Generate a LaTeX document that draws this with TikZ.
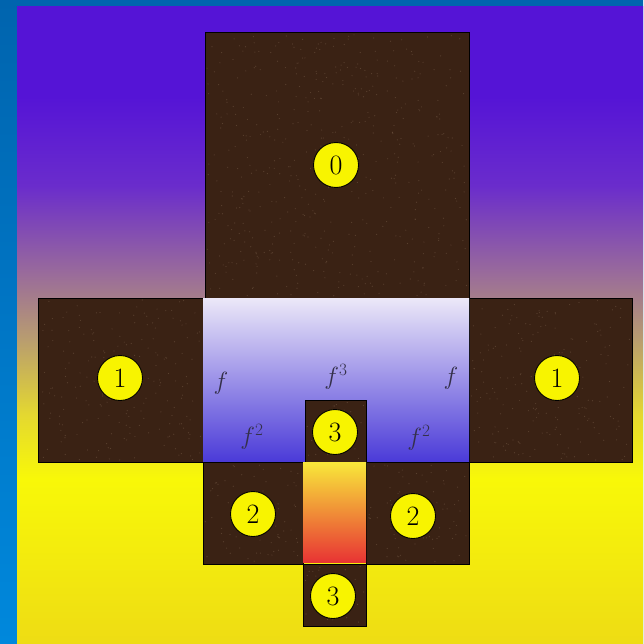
\documentclass[tikz,border=0pt]{standalone}
\definecolor{frameA}{HTML}{0064AE}
\definecolor{frameB}{HTML}{0088DC}
\definecolor{bgP0}{HTML}{5514D6}
\definecolor{bgP1}{HTML}{6A2CCC}
\definecolor{bgM1}{HTML}{9A6C9A}
\definecolor{bgM2}{HTML}{B89C70}
\definecolor{bgY0}{HTML}{E4D830}
\definecolor{bgY1}{HTML}{F8F808}
\definecolor{bgY2}{HTML}{EEDC14}
\definecolor{brownfill}{HTML}{3A2214}
\definecolor{brownspeck}{HTML}{6E5440}
\definecolor{lavtop}{HTML}{ECE8F8}
\definecolor{lavbot}{HTML}{4A3AD8}
\definecolor{ortop}{HTML}{F8E83A}
\definecolor{ormid}{HTML}{F8B028}
\definecolor{orbot}{HTML}{E83434}
\definecolor{discyellow}{HTML}{F8F400}
\definecolor{labelgray}{HTML}{34304A}
\pgfdeclareverticalshading{bgshade}{100bp}{color(0bp)=(bgY2); color(25bp)=(bgY2); color(38bp)=(bgY1); color(43bp)=(bgY0); color(49bp)=(bgM2); color(54bp)=(bgM1); color(61bp)=(bgP1); color(68bp)=(bgP0); color(75bp)=(bgP0); color(100bp)=(bgP0)}
\tikzset{
  tile/.style={fill=brownfill, draw=black, line width=0.7pt},
  disc/.style={circle, fill=discyellow, draw=black, line width=0.9pt, minimum size=45pt, inner sep=0pt, font=\fontsize{28}{32}\selectfont},
  flabel/.style={text=labelgray, font=\fontsize{26}{30}\selectfont}
}
\newcommand{\speckle}[5]{%
  \foreach \k in {1,...,#5}{%
    \pgfmathsetmacro{\sx}{#1+rnd*(#3-#1)}%
    \pgfmathsetmacro{\sy}{#2+rnd*(#4-#2)}%
    \fill[brownspeck, opacity=0.6] (\sx,\sy) circle (0.6pt);
  }}
\begin{document}
\begin{tikzpicture}[x=1pt,y=-1pt]
\pgfmathsetseed{7}
\useasboundingbox (0,0) rectangle (643,644);
\shade[top color=frameA, bottom color=frameB] (0,0) rectangle (643,644);
\shade[shading=bgshade] (17,7) rectangle (643,644);
% tiles
\path[tile] (205,32) rectangle (469,298);
\speckle{207}{34}{467}{296}{500}
\path[tile] (38,298) rectangle (203,462);
\speckle{40}{300}{201}{460}{200}
\path[tile] (469,298) rectangle (632,462);
\speckle{471}{300}{630}{460}{200}
\shade[top color=lavtop, bottom color=lavbot] (203,298) rectangle (469,462);
\path[tile] (305,400) rectangle (366,462);
\speckle{307}{402}{364}{460}{30}
\path[tile] (203,462) rectangle (303,564);
\speckle{205}{464}{301}{562}{80}
\path[tile] (366,462) rectangle (469,564);
\speckle{368}{464}{467}{562}{80}
\shade[top color=ortop, middle color=ormid, bottom color=orbot] (303,462) rectangle (366,562);
\path[tile] (303,564) rectangle (366,626);
\speckle{305}{566}{364}{624}{30}
% discs
\node[disc] (d0) at (336,165) {0};
\node[disc] (d1l) at (120,378) {1};
\node[disc] (d1r) at (557,378) {1};
\node[disc] (d3t) at (335,432) {3};
\node[disc] (d2l) at (253,514) {2};
\node[disc] (d2r) at (413,516) {2};
\node[disc] (d3b) at (333,596) {3};
% labels
\node[flabel] (fl) at (221,383) {$f$};
\node[flabel] (f3) at (336,377) {$f^3$};
\node[flabel] (fr) at (451,378) {$f$};
\node[flabel] (f2l) at (252,437) {$f^2$};
\node[flabel] (f2r) at (419,438) {$f^2$};
\end{tikzpicture}
\end{document}
